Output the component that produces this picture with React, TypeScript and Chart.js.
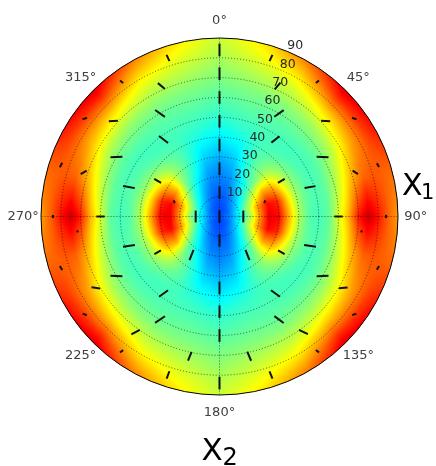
import { useEffect, useRef } from "react";
import { Chart, registerables } from "chart.js";

Chart.register(...registerables);

// Scalar field sampled on a polar grid (azimuth clockwise from north, zenith radius in degrees).
// The field is mirror-symmetric about both axes, so one quadrant is stored.
const FIELD_AZIMUTHS = [0, 15, 30, 45, 60, 75, 90];
const FIELD_RADII = [0, 5, 10, 15, 20, 25, 30, 35, 40, 45, 50, 55, 60, 65, 70, 75, 80, 85, 90];
const FIELD_AZ0 = [0.19, 0.2, 0.21, 0.23, 0.25, 0.27, 0.30, 0.33, 0.36, 0.39, 0.42, 0.44, 0.46, 0.48, 0.50, 0.52, 0.54, 0.56, 0.57];
const FIELD_AZ15 = [0.19, 0.2, 0.22, 0.24, 0.27, 0.30, 0.33, 0.36, 0.39, 0.42, 0.44, 0.46, 0.48, 0.50, 0.53, 0.56, 0.59, 0.62, 0.65];
const FIELD_AZ30 = [0.19, 0.21, 0.25, 0.30, 0.35, 0.40, 0.43, 0.44, 0.44, 0.44, 0.45, 0.46, 0.48, 0.51, 0.55, 0.59, 0.64, 0.70, 0.76];
const FIELD_AZ45 = [0.19, 0.22, 0.30, 0.38, 0.45, 0.50, 0.53, 0.51, 0.47, 0.44, 0.44, 0.46, 0.49, 0.53, 0.59, 0.66, 0.75, 0.84, 0.91];
const FIELD_AZ60 = [0.19, 0.23, 0.34, 0.47, 0.60, 0.71, 0.70, 0.60, 0.51, 0.46, 0.44, 0.46, 0.50, 0.56, 0.63, 0.70, 0.76, 0.82, 0.86];
const FIELD_AZ75 = [0.19, 0.25, 0.38, 0.55, 0.73, 0.87, 0.84, 0.67, 0.53, 0.47, 0.45, 0.47, 0.54, 0.63, 0.72, 0.78, 0.79, 0.78, 0.77];
const FIELD_AZ90 = [0.19, 0.25, 0.37, 0.52, 0.72, 0.90, 0.87, 0.70, 0.55, 0.46, 0.44, 0.47, 0.59, 0.70, 0.85, 0.93, 0.86, 0.78, 0.72];
const FIELD_ROWS = [FIELD_AZ0, FIELD_AZ15, FIELD_AZ30, FIELD_AZ45, FIELD_AZ60, FIELD_AZ75, FIELD_AZ90];

// Direction field: each entry is [azimuth°, orientation° (ccw from horizontal), length in radius units]
const RING_0 = [[0, 90, 6.4]];
const RING_12 = [[0, 90, 6.4], [90, 90, 6], [180, 90, 6.4], [270, 90, 6]];
const RING_24 = [[0, 90, 6.4], [72, 70, 1.5], [144, -68, 5.5], [216, 68, 5.5], [288, -70, 1.5]];
const RING_36 = [[0, 90, 6.4], [60, 30, 4], [120, -30, 3.8], [180, 90, 6.4], [240, 30, 3.8], [300, -30, 4]];
const RING_48 = [
  [0, 90, 6.4], [36, 38, 5.2], [72, 10, 5.6], [108, -8, 6], [144, -36, 5.6],
  [180, 90, 6.4], [216, 36, 5.6], [252, 8, 6], [288, -10, 6], [324, -38, 5.8],
];
const RING_60 = [
  [0, 90, 6.4], [30, 35, 5.8], [60, -2, 6], [90, 0, 4.2], [120, 2, 6], [150, -36, 5.8],
  [180, 90, 6.4], [210, 34, 6], [240, -2, 6], [270, 0, 4.2], [300, 2, 6], [330, -35, 6],
];
const RING_72 = [
  [0, 90, 6.4], [24, 50, 4.5], [48, -4, 4.6], [72, -32, 3.2], [96, 60, 1], [120, 6, 4.5],
  [144, -26, 5], [168, -67, 5], [192, 68, 4.8], [216, 28, 4.8], [240, -8, 4.4], [264, -60, 1],
  [288, 30, 3.5], [312, 4, 4.6], [336, -40, 4.6],
];
const RING_84 = [
  [0, 90, 6.4], [18, 65, 3.5], [36, 39, 2], [54, -20, 2.4], [72, -60, 2.2], [90, 90, 1.6],
  [108, 60, 2.2], [126, 20, 2.2], [144, -38, 2], [162, -68, 4], [180, 90, 6.4], [198, 70, 4],
  [216, 36, 2], [234, -22, 2.2], [252, -60, 2.4], [270, 90, 1.6], [288, 60, 2.5], [306, 20, 2.4],
  [324, -39, 2], [342, -65, 3.5],
];
const RINGS: [number, number[][]][] = [
  [0, RING_0], [12, RING_12], [24, RING_24], [36, RING_36],
  [48, RING_48], [60, RING_60], [72, RING_72], [84, RING_84],
];

const THETA_TICKS = [0, 45, 90, 135, 180, 225, 270, 315];
const RADIUS_TICKS = [10, 20, 30, 40, 50, 60, 70, 80, 90];
const GRID_RINGS = [10, 20, 30, 40, 50, 60, 70, 80];
const GRID_SPOKES = [0, 90, 180, 270];
const R_MAX = 90;
const RLABEL_AZIMUTH = 22.5;

function jet(v: number): [number, number, number] {
  const c = (t: number) => Math.max(0, Math.min(1, t));
  return [c(1.5 - Math.abs(4 * v - 3)) * 255, c(1.5 - Math.abs(4 * v - 2)) * 255, c(1.5 - Math.abs(4 * v - 1)) * 255];
}

function sampleField(az: number, r: number): number {
  let p = ((az % 360) + 360) % 360;
  if (p > 180) p = 360 - p;
  if (p > 90) p = 180 - p;
  const fi = (p / 90) * (FIELD_AZIMUTHS.length - 1);
  const fj = (Math.min(r, R_MAX) / R_MAX) * (FIELD_RADII.length - 1);
  const i0 = Math.min(Math.floor(fi), FIELD_AZIMUTHS.length - 2);
  const j0 = Math.min(Math.floor(fj), FIELD_RADII.length - 2);
  const ti = fi - i0;
  const tj = fj - j0;
  const a = FIELD_ROWS[i0][j0] * (1 - tj) + FIELD_ROWS[i0][j0 + 1] * tj;
  const b = FIELD_ROWS[i0 + 1][j0] * (1 - tj) + FIELD_ROWS[i0 + 1][j0 + 1] * tj;
  return a * (1 - ti) + b * ti;
}

const toXY = (az: number, r: number) => {
  const t = (az * Math.PI) / 180;
  return { x: r * Math.sin(t), y: r * Math.cos(t) };
};

const polarPlugin = {
  id: "polarField",
  beforeDatasetsDraw(chart: any) {
    const { ctx, scales } = chart;
    const xs = scales.x;
    const ys = scales.y;
    const cx = xs.getPixelForValue(0);
    const cy = ys.getPixelForValue(0);
    const R = xs.getPixelForValue(R_MAX) - cx;

    const ox = Math.floor(cx - R) - 1;
    const oy = Math.floor(cy - R) - 1;
    const size = Math.ceil(2 * R) + 3;
    const off = document.createElement("canvas");
    off.width = size;
    off.height = size;
    const octx = off.getContext("2d")!;
    const img = octx.createImageData(size, size);
    for (let py = 0; py < size; py++) {
      for (let px = 0; px < size; px++) {
        const u = xs.getValueForPixel(ox + px + 0.5);
        const v = ys.getValueForPixel(oy + py + 0.5);
        const r = Math.hypot(u, v);
        if (r > R_MAX + 1) continue;
        const az = (Math.atan2(u, v) * 180) / Math.PI;
        const [cr, cg, cb] = jet(sampleField(az, r));
        const k = (py * size + px) * 4;
        img.data[k] = cr;
        img.data[k + 1] = cg;
        img.data[k + 2] = cb;
        img.data[k + 3] = 255;
      }
    }
    octx.putImageData(img, 0, 0);
    ctx.save();
    ctx.beginPath();
    ctx.arc(cx, cy, R, 0, Math.PI * 2);
    ctx.clip();
    ctx.drawImage(off, ox, oy);

    // dotted polar grid
    ctx.strokeStyle = "rgba(0,0,0,0.6)";
    ctx.lineWidth = 1;
    ctx.setLineDash([1, 2]);
    for (const g of GRID_RINGS) {
      const gr = xs.getPixelForValue(g) - cx;
      ctx.beginPath();
      ctx.arc(cx, cy, gr, 0, Math.PI * 2);
      ctx.stroke();
    }
    for (const s of GRID_SPOKES) {
      const end = toXY(s, R_MAX);
      ctx.beginPath();
      ctx.moveTo(cx, cy);
      ctx.lineTo(xs.getPixelForValue(end.x), ys.getPixelForValue(end.y));
      ctx.stroke();
    }
    ctx.restore();
  },
  afterDatasetsDraw(chart: any) {
    const { ctx, scales } = chart;
    const xs = scales.x;
    const ys = scales.y;
    const cx = xs.getPixelForValue(0);
    const cy = ys.getPixelForValue(0);
    const R = xs.getPixelForValue(R_MAX) - cx;

    ctx.save();
    ctx.strokeStyle = "#000";
    ctx.lineWidth = 1;
    ctx.beginPath();
    ctx.arc(cx, cy, R, 0, Math.PI * 2);
    ctx.stroke();

    ctx.fillStyle = "#404040";
    ctx.font = "13px 'DejaVu Sans'";
    ctx.textAlign = "center";
    ctx.textBaseline = "middle";
    for (const t of THETA_TICKS) {
      const p = toXY(t, R_MAX * 1.1);
      ctx.fillText(`${t}°`, xs.getPixelForValue(p.x), ys.getPixelForValue(p.y));
    }

    ctx.fillStyle = "#2a2a2a";
    ctx.font = "12.5px 'DejaVu Sans'";
    for (const rt of RADIUS_TICKS) {
      const p = toXY(RLABEL_AZIMUTH, rt);
      ctx.fillText(String(rt), xs.getPixelForValue(p.x) + 7.5, ys.getPixelForValue(p.y) - 5.5);
    }

    // axis names
    ctx.fillStyle = "#000";
    ctx.textAlign = "left";
    ctx.textBaseline = "alphabetic";
    const right = cx + R;
    ctx.font = "30px 'DejaVu Sans'";
    ctx.fillText("X", right + 4, cy - 22);
    ctx.font = "21px 'DejaVu Sans'";
    ctx.fillText("1", right + 23, cy - 18);
    const bottom = cy + R;
    ctx.font = "31px 'DejaVu Sans'";
    ctx.fillText("X", cx - 18, bottom + 65);
    ctx.font = "24px 'DejaVu Sans'";
    ctx.fillText("2", cx + 3, bottom + 70);
    ctx.restore();
  },
};

export default function App() {
  const ref = useRef<HTMLCanvasElement | null>(null);

  useEffect(() => {
    if (!ref.current) return;
    const points: { x: number; y: number; angle: number; len: number }[] = [];
    for (const [r, ring] of RINGS) {
      for (const [az, angle, len] of ring) {
        const p = toXY(az, r);
        points.push({ x: p.x, y: p.y, angle, len });
      }
    }
    const chart = new Chart(ref.current, {
      type: "scatter",
      data: {
        datasets: [
          {
            data: points,
            pointStyle: "line",
            pointBorderColor: "#111",
            pointBackgroundColor: "#111",
            pointBorderWidth: 2,
            pointRadius: (c: any) => {
              const s = c.chart.scales.x;
              return Math.abs(s.getPixelForValue(c.raw.len) - s.getPixelForValue(0)) / 2;
            },
            pointRotation: (c: any) => -c.raw.angle,
            pointHoverRadius: 0,
          } as any,
        ],
      },
      options: {
        responsive: false,
        animation: false,
        devicePixelRatio: 1,
        layout: { padding: { left: 41, right: 38, top: 38, bottom: 71 } },
        scales: {
          x: { type: "linear", min: -R_MAX, max: R_MAX, display: false },
          y: { type: "linear", min: -R_MAX, max: R_MAX, display: false },
        },
        plugins: { legend: { display: false }, tooltip: { enabled: false } },
      },
      plugins: [polarPlugin],
    });
    return () => chart.destroy();
  }, []);

  return (
    <div style={{ position: "absolute", left: 0, top: 0, width: 436, height: 466, background: "#fff" }}>
      <canvas ref={ref} width={436} height={466} />
    </div>
  );
}
